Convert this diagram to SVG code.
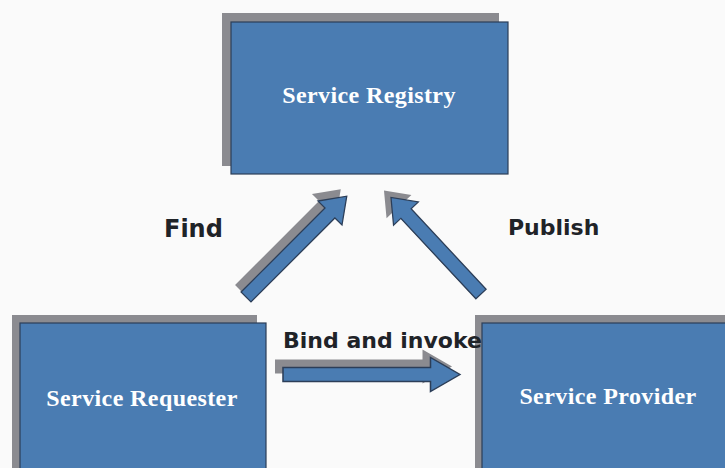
<svg xmlns="http://www.w3.org/2000/svg" width="725" height="468" viewBox="0 0 725 468">
  <style>
    .shadow { fill: #8b8b90; }
    .box { fill: #4a7cb2; stroke: #2c3e58; stroke-width: 1.2; }
    .box-label { font-family: "Liberation Serif", "Times New Roman", serif; font-weight: bold; font-size: 24px; fill: #ffffff; text-anchor: middle; letter-spacing: 0.4px; }
    .edge-label { font-family: "DejaVu Sans", Verdana, sans-serif; font-weight: bold; font-size: 22px; fill: #1f2328; }
    .arrow-shadow { fill: #8b8b90; }
    .arrow-body { fill: #4a7cb2; stroke: #2c3e58; stroke-width: 1.3; stroke-linejoin: miter; }
  </style>
  <defs>
    <!-- block arrow pointing along +x, 150 units long, tail at origin -->
    <polygon id="block-arrow" points="0,-7 125,-7 125,-17 150,0 125,17 125,7 0,7"/>
  </defs>

  <rect x="0" y="0" width="725" height="468" fill="#fafafa"/>

  <g id="service-registry">
    <rect class="shadow" x="222" y="13" width="277" height="153"/>
    <rect class="box" x="231" y="22" width="277" height="152"/>
    <text class="box-label" x="369" y="103">Service Registry</text>
  </g>

  <g id="service-requester">
    <rect class="shadow" x="12" y="315" width="245" height="160"/>
    <rect class="box" x="20" y="323" width="246" height="160"/>
    <text class="box-label" x="142" y="406">Service Requester</text>
  </g>

  <g id="service-provider">
    <rect class="shadow" x="475" y="315" width="260" height="160"/>
    <rect class="box" x="482" y="323" width="260" height="160"/>
    <text class="box-label" x="608" y="404">Service Provider</text>
  </g>

  <g id="connectors">
    <!-- Find: requester to registry -->
    <g transform="translate(240,290) rotate(-45) scale(0.95,1)">
      <use href="#block-arrow" class="arrow-shadow"/>
    </g>
    <g transform="translate(246,297) rotate(-45) scale(0.95,1)">
      <use href="#block-arrow" class="arrow-body"/>
    </g>
    <!-- Publish: provider to registry -->
    <g transform="translate(474,287) rotate(-133) scale(0.88,1)">
      <use href="#block-arrow" class="arrow-shadow"/>
    </g>
    <g transform="translate(481,294) rotate(-133) scale(0.88,1)">
      <use href="#block-arrow" class="arrow-body"/>
    </g>
    <!-- Bind and invoke: requester to provider -->
    <g transform="translate(275,366.5) scale(1.18,1)">
      <use href="#block-arrow" class="arrow-shadow"/>
    </g>
    <g transform="translate(283,374.5) scale(1.18,1)">
      <use href="#block-arrow" class="arrow-body"/>
    </g>
  </g>

  <g id="labels">
    <text class="edge-label" x="164" y="237" style="font-size:24px">Find</text>
    <text class="edge-label" x="508" y="235">Publish</text>
    <text class="edge-label" x="283" y="348">Bind and invoke</text>
  </g>
</svg>
